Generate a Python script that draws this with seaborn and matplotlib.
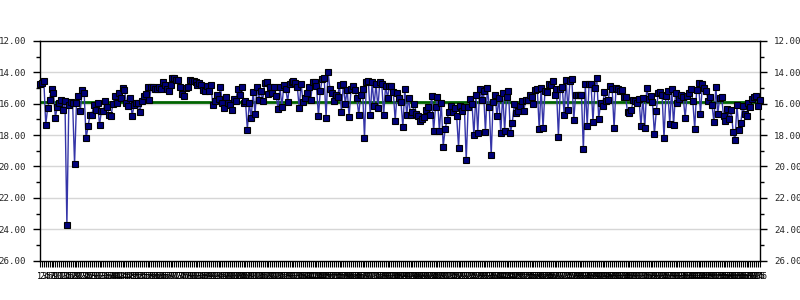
import numpy as np
import pandas as pd
import matplotlib
matplotlib.use("Agg")
import matplotlib.pyplot as plt
from matplotlib.ticker import MultipleLocator
import seaborn as sns

seg1 = [14.75,14.66,14.54,17.36,16.25,15.76,15.05,15.31,16.89,16.2,15.99,15.76,16.4,15.82,23.75,16.08,15.9,15.99,19.85,15.95,
        15.5,16.44,15.11,15.31,18.22,17.45,16.72,16.72,16.08,16.4,15.95,17.36,16.46,16.46,15.82,16.23,16.72,16.78,16.01,15.5,
        15.97,15.31,15.65,14.98,15.11,15.97,16.14,15.63,16.78,16.1,15.95,15.95,16.53,15.82,15.5,15.41,14.96,15.76,14.92,14.92,
        15.09,15.09,14.96,15.05,14.6,14.79,15.09,15.22,14.84,14.36,14.39,14.49,14.47,14.96,15.37,15.5,15.01,14.92]
seg2 = [14.47,14.58,14.58,14.64,14.79,14.66,14.79,15.11,15.22,14.86,15.22,14.79,16.08,15.82,15.46,15.69,14.96,15.95,16.25,15.56,
        15.95,16.08,16.4,15.69,15.82,15.05,15.43,14.96,15.95,15.82,17.65,15.95,16.91,15.24,16.66,14.96,15.76,15.18,15.82,14.66,
        14.62,15.37,14.96,15.31,14.96,15.5,16.33,14.96,16.2,14.79,15.05,15.88,14.73,14.6,14.54,14.66,14.92,16.27,14.73,15.88,
        15.63,15.31,14.92,15.76,14.6,14.6,14.86,16.78,15.18,14.41,14.34,16.91,13.96,15.05,15.35,15.82]
seg3 = [15.43,15.56,14.79,16.53,14.73,16.01,15.11,16.85,15.05,14.9,15.11,15.63,16.72,15.43,15.05,18.2,14.6,14.54,16.72,14.6,
        16.14,14.73,16.27,14.6,14.73,16.72,14.86,15.63,14.86,14.86,15.24,17.1,15.31,15.63,15.88,17.49,15.05,16.72,15.63,16.72,
        16.53,16.01,16.66,16.78,17.1,16.98,16.85,16.4,16.2,16.72,15.5,17.75,16.2,15.56,17.75,15.95,18.73,17.62,17.04,16.53,
        16.14,16.53,16.27,16.78,18.8,16.14,16.46,16.2,19.6,16.2,15.69,16.01,18.02,15.43,17.85,15.05]
seg4 = [15.76,15.18,17.81,14.98,16.2,19.3,15.88,15.43,16.78,15.63,17.88,15.31,17.75,15.56,15.18,17.88,17.23,16.01,16.59,16.46,
        16.14,15.82,16.46,15.76,15.76,15.43,15.56,16.01,15.11,15.05,17.62,14.98,17.55,15.18,15.24,14.73,14.79,14.54,15.43,15.05,
        18.1,15.05,14.92,16.72,14.47,16.4,14.54,14.41,17.04,15.43,15.43,15.43,15.43,18.92,14.73,17.43,14.73,14.73,17.17,14.98,
        14.34,16.98,15.95,16.14,15.24,15.82,15.76,14.86,15.05,17.55,14.98,15.05,15.18,15.11,15.56,15.56,16.53]
seg5 = [16.59,16.4,15.76,15.82,15.95,15.69,17.43,15.63,17.55,14.98,15.69,15.5,15.88,17.94,16.46,15.31,15.24,15.43,18.2,15.5,
        15.18,17.3,15.05,17.36,15.31,15.95,15.69,15.43,15.56,16.91,15.5,15.31,15.05,15.82,17.62,15.11,14.66,16.66,14.73,14.98,
        15.18,15.82,15.56,16.08,17.17,14.92,16.66,15.63,15.56,16.78,17.1,16.33,16.98,16.4,17.81,18.3,16.08,17.68,17.23,16.14,
        16.66,16.78,15.95,16.2,15.69,15.56,15.5,16.14,15.76]
average_value = [15.88]
y_ticks = [12, 14, 16, 18, 20, 22, 24, 26]
y_tick_labels = ["12.00", "14.00", "16.00", "18.00", "20.00", "22.00", "24.00", "26.00"]

values = seg1 + seg2 + seg3 + seg4 + seg5
n = len(values)
x_labels = [str(i + 1) for i in range(n)]
df = pd.DataFrame({"idx": np.arange(n), "value": values})

sns.set_style("white")
plt.rcParams["font.family"] = ["DejaVu Sans Mono", "DejaVu Sans"]

fig = plt.figure(figsize=(8, 3), dpi=100)
ax = fig.add_axes([0.05, 0.131, 0.90, 0.733])

for v in y_ticks[1:-1]:
    ax.axhline(v, color="#d6d6d6", lw=1, zorder=0)
ax.axhline(average_value[0], color="#006400", lw=2, zorder=1)

sns.lineplot(data=df, x="idx", y="value", ax=ax, color="#3535a8", lw=1,
             marker="s", markersize=4, markerfacecolor="#00007a",
             markeredgecolor="black", markeredgewidth=0.8, clip_on=False,
             zorder=3, legend=False)

ax.set_xlim(0, n - 1)
ax.set_ylim(26, 12)
ax.set_yticks(y_ticks)
ax.set_yticklabels(y_tick_labels)
ax.yaxis.set_minor_locator(MultipleLocator(1))
ax.set_xticks(np.arange(n))
ax.set_xticklabels(x_labels, fontsize=6, color="black")
ax.set_xlabel("")
ax.set_ylabel("")
ax.tick_params(axis="y", which="major", left=True, right=True, labelleft=True,
               labelright=True, length=5, width=1, color="black", labelsize=6.6, pad=5)
ax.tick_params(axis="y", which="minor", left=True, right=True, length=3, width=1, color="black")
ax.tick_params(axis="x", which="major", bottom=True, length=4, width=0.8, color="black", pad=4)
for s in ax.spines.values():
    s.set_color("black")
    s.set_linewidth(1)
    s.set_visible(True)

fig.savefig("out.png", dpi=100)
